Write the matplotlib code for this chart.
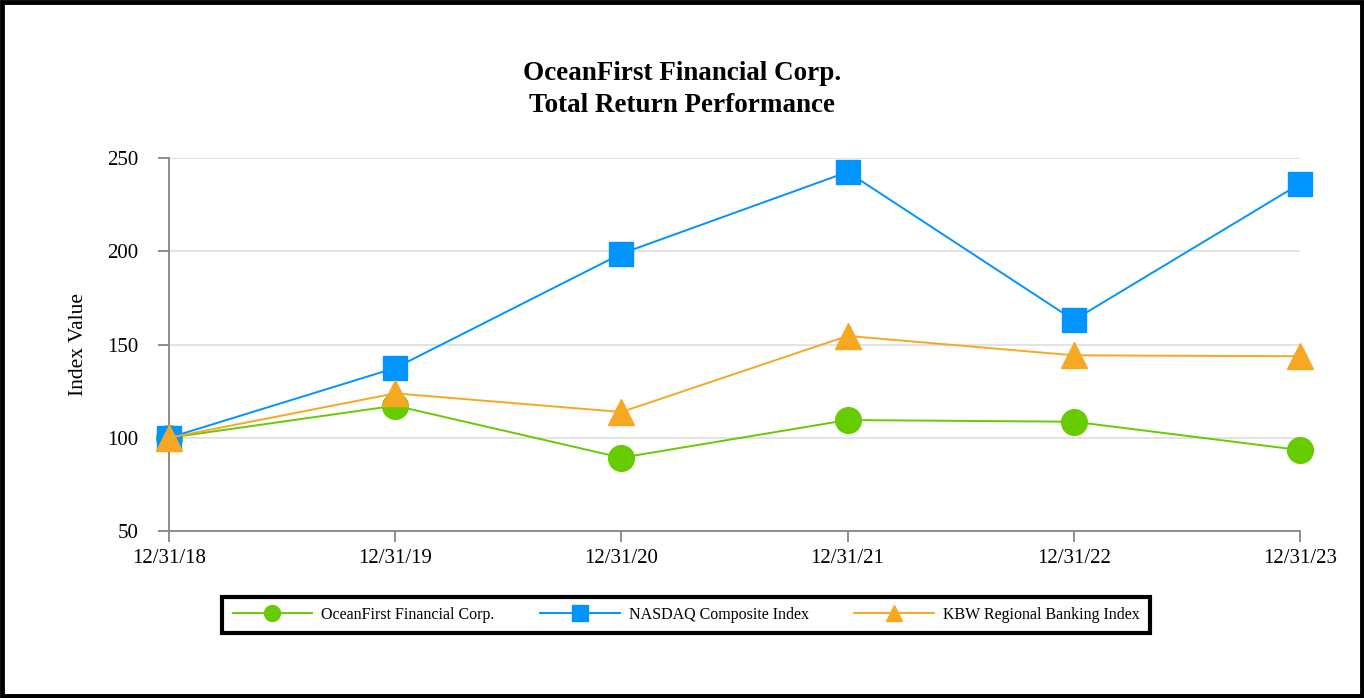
import matplotlib
matplotlib.use("Agg")
import matplotlib.pyplot as plt
from matplotlib.patches import Rectangle

dates = ["12/31/18", "12/31/19", "12/31/20", "12/31/21", "12/31/22", "12/31/23"]
oceanfirst = [100.0, 117.2, 89.3, 109.5, 108.6, 93.4]
nasdaq = [100.0, 137.4, 198.7, 242.5, 163.1, 236.2]
kbw = [100.0, 123.8, 113.8, 154.6, 144.2, 143.7]
series_names = ["OceanFirst Financial Corp.", "NASDAQ Composite Index", "KBW Regional Banking Index"]
yticks = [50, 100, 150, 200, 250]

plt.rcParams['font.family'] = ['Liberation Serif', 'DejaVu Serif']

W, H = 1364, 698
fig = plt.figure(figsize=(W / 100, H / 100), dpi=100)
ax = fig.add_axes([169 / W, 1 - 531 / H, (1300 - 169) / W, (531 - 158) / H])

x = list(range(len(dates)))
green = "#66CC00"
blue = "#0094FF"
orange = "#F7A823"

l1, = ax.plot(x, oceanfirst, color=green, lw=1.4, marker="o", ms=18.5, mec=green, clip_on=False, zorder=3, label=series_names[0])
l2, = ax.plot(x, nasdaq, color=blue, lw=1.4, marker="s", ms=17.5, mec=blue, clip_on=False, zorder=3, label=series_names[1])
l3, = ax.plot(x, kbw, color=orange, lw=1.4, marker="^", ms=18.5, mec=orange, clip_on=False, zorder=4, label=series_names[2])

ax.set_xlim(0, len(dates) - 1)
ax.set_ylim(50, 250)
ax.set_xticks(x)
ax.set_xticklabels(dates, fontsize=15)
ax.set_yticks(yticks)
ax.set_yticklabels([str(v) for v in yticks], fontsize=15)
ax.grid(axis="y", color="#e3e3e3", lw=1.4, zorder=0)
ax.set_axisbelow(True)
for s in ["top", "right"]:
    ax.spines[s].set_visible(False)
for s in ["left", "bottom"]:
    ax.spines[s].set_color("#8c8c8c")
    ax.spines[s].set_linewidth(1.4)
ax.tick_params(axis="both", color="#8c8c8c", width=1.4, length=8, labelcolor="black")
ax.tick_params(axis="y", pad=14)
ax.tick_params(axis="x", pad=5)
ax.set_ylabel("Index Value", fontsize=15.5, labelpad=14)

fig.text(0.5, 1 - 74 / H, "OceanFirst Financial Corp.", ha="center", va="center", fontsize=19.5, fontweight="bold")
fig.text(0.5, 1 - 106 / H, "Total Return Performance", ha="center", va="center", fontsize=19.5, fontweight="bold")

leg = fig.legend(handles=[l1, l2, l3], loc="center", bbox_to_anchor=((217 + 1155) / 2 / W, 1 - 615 / H),
                 ncol=3, fontsize=11.5, frameon=True, fancybox=False, edgecolor="black", framealpha=1,
                 handlelength=5.0, handletextpad=0.55, columnspacing=2.85, borderpad=0.65,
                 markerscale=0.62)
leg.get_frame().set_linewidth(3.0)

fig.patches.append(Rectangle((0.0015, 0.003), 0.997, 0.994, transform=fig.transFigure,
                             fill=False, edgecolor="black", lw=3.5))

fig.savefig("out.png", dpi=100)
